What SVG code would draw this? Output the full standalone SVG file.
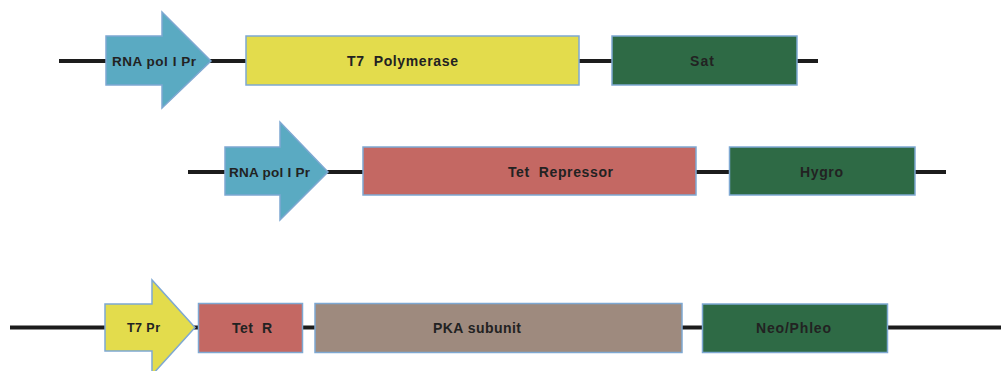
<svg xmlns="http://www.w3.org/2000/svg" width="1001" height="371" viewBox="0 0 1001 371">
<style>
.wire{stroke:#1c1c1c;stroke-width:4;fill:none}
.shape{stroke:#7ea8d2;stroke-width:1.5}
.blue{fill:#5aaac2}
.yellow{fill:#e3dc4c}
.green{fill:#2e6a45}
.red{fill:#c46863}
.tan{fill:#9e8a7e}
.lbl{font-family:"Liberation Sans",Arial,sans-serif;font-weight:bold;font-size:14px;fill:#222}
</style>
<rect width="1001" height="371" fill="#ffffff"/>
<g id="connectors">
<line class="wire" x1="59" y1="61" x2="818" y2="61"/>
<line class="wire" x1="188" y1="172" x2="946" y2="172"/>
<line class="wire" x1="10" y1="327.5" x2="1001" y2="327.5"/>
</g>
<g id="promoter1">
<polygon class="shape blue" points="106,36 162,36 162,12 211,61 162,108 162,85 106,85"/>
<text class="lbl" x="112" y="65.5" textLength="84" lengthAdjust="spacing" style="font-size:13.5px">RNA pol I Pr</text>
</g>
<g id="t7pol">
<rect class="shape yellow" x="246" y="36" width="333" height="49"/>
<text class="lbl" x="347" y="66" textLength="111" lengthAdjust="spacing">T7&#160; Polymerase</text>
</g>
<g id="sat">
<rect class="shape green" x="612" y="36" width="185" height="49"/>
<text class="lbl" x="690" y="66" textLength="24" lengthAdjust="spacing">Sat</text>
</g>
<g id="promoter2">
<polygon class="shape blue" points="225,147 280,147 280,122 328,172 280,220 280,195 225,195"/>
<text class="lbl" x="229" y="176.5" textLength="81" lengthAdjust="spacing" style="font-size:13.5px">RNA pol I Pr</text>
</g>
<g id="tetrep">
<rect class="shape red" x="363" y="147" width="333" height="48"/>
<text class="lbl" x="508" y="176.5" textLength="105" lengthAdjust="spacing">Tet&#160; Repressor</text>
</g>
<g id="hygro">
<rect class="shape green" x="729.5" y="147" width="185.5" height="48"/>
<text class="lbl" x="800" y="177" textLength="43" lengthAdjust="spacing">Hygro</text>
</g>
<g id="t7pr">
<polygon class="shape yellow" points="105,304 152,304 152,280 195,327.5 152,375 152,351 105,351"/>
<text class="lbl" x="127" y="331.5" textLength="33" lengthAdjust="spacing" style="font-size:12.5px">T7 Pr</text>
</g>
<g id="tetr">
<rect class="shape red" x="198.5" y="303.5" width="104" height="49"/>
<text class="lbl" x="232" y="333" textLength="40" lengthAdjust="spacing">Tet&#160; R</text>
</g>
<g id="pka">
<rect class="shape tan" x="315" y="303.5" width="367" height="49"/>
<text class="lbl" x="433" y="332.5" textLength="88" lengthAdjust="spacing">PKA subunit</text>
</g>
<g id="neophleo">
<rect class="shape green" x="702.5" y="304" width="185" height="48.5"/>
<text class="lbl" x="756" y="333" textLength="75" lengthAdjust="spacing">Neo/Phleo</text>
</g>
</svg>
